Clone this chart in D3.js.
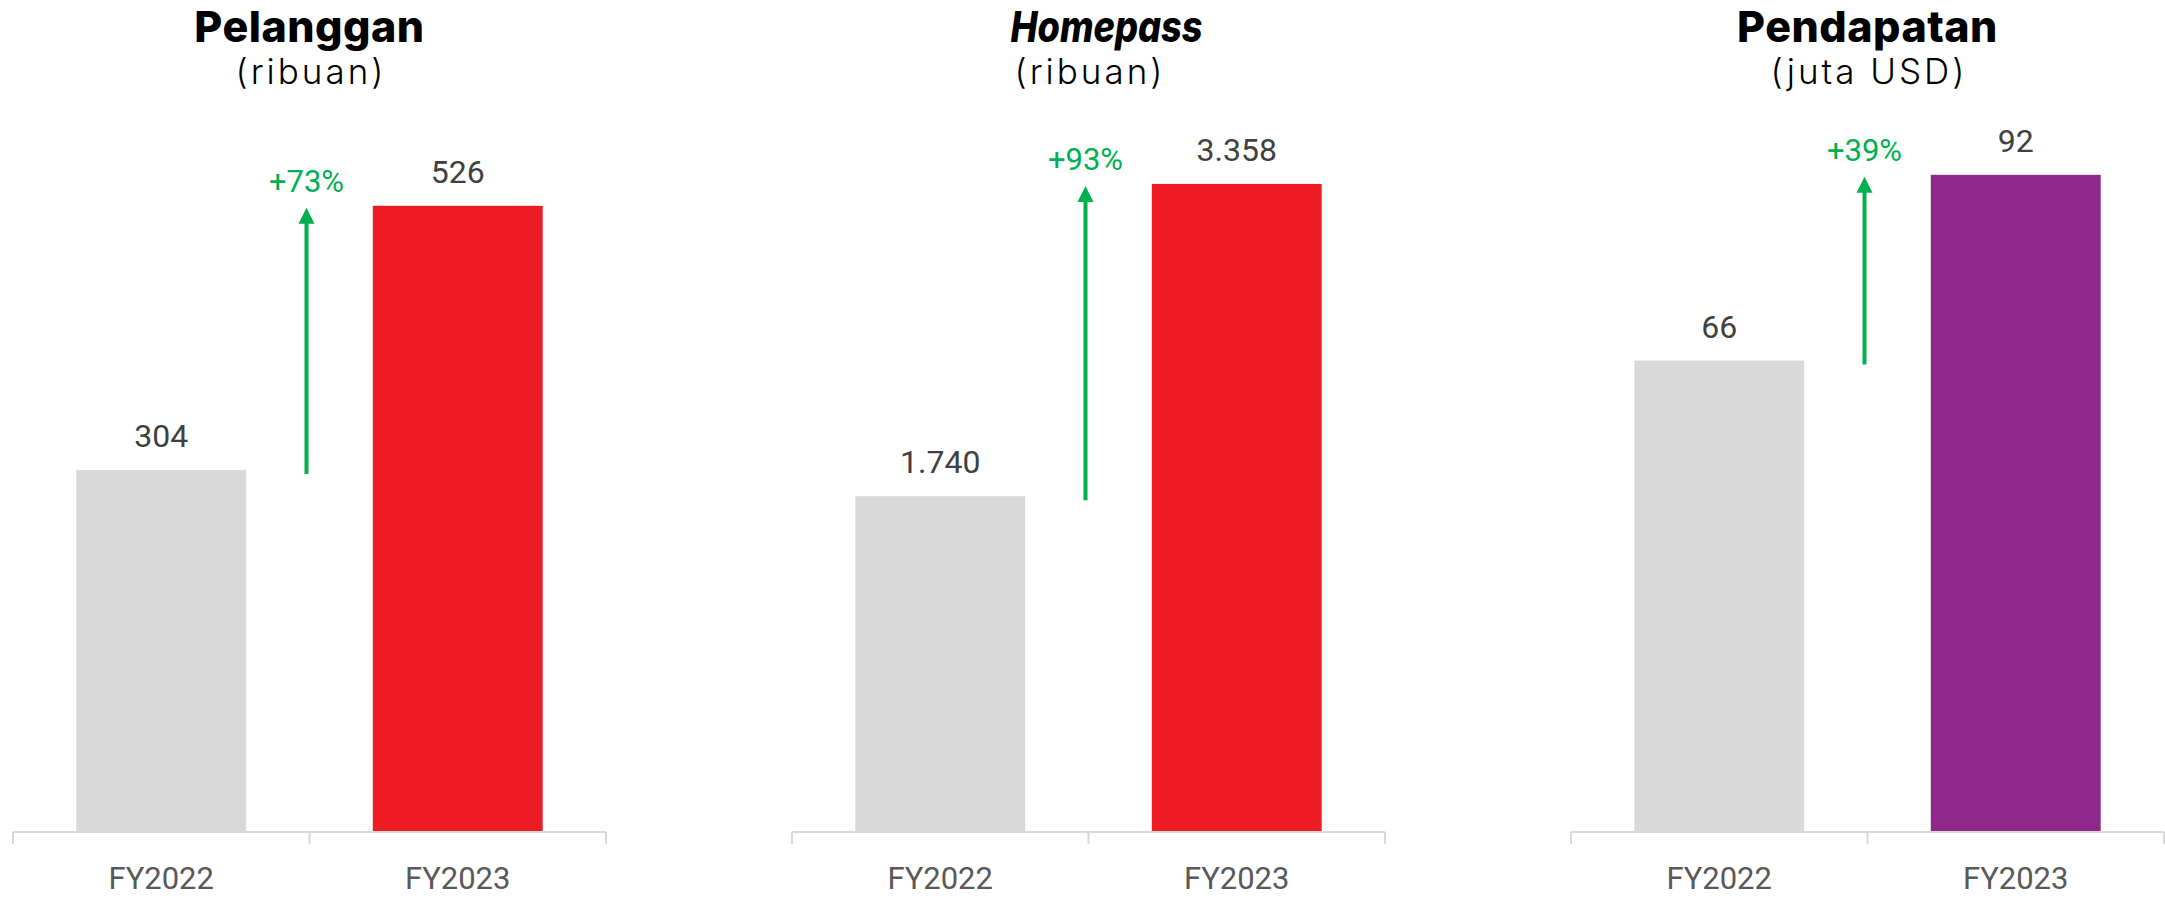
<!DOCTYPE html>
<html>
<head>
<meta charset="utf-8">
<script src="https://cdn.jsdelivr.net/npm/d3@7"></script>
<style>
  html, body { margin: 0; padding: 0; background: #fff; }
  svg { display: block; }
</style>
</head>
<body>
<svg id="chart" width="2165" height="898"></svg>
<script>
// ---- data ----
const categories = ["FY2022", "FY2023"];
const titles = ["Pelanggan", "Homepass", "Pendapatan"];
const subtitles = ["(ribuan)", "(ribuan)", "(juta USD)"];
const values = [[304, 526], [1740, 3358], [66, 92]];
const valueLabels = [["304", "526"], ["1.740", "3.358"], ["66", "92"]];
const growthLabels = ["+73%", "+93%", "+39%"];
const yMax = [588, 3627, 98];
const highlightColors = ["#ED1C24", "#ED1C24", "#8E298A"];

// ---- layout ----
const svg = d3.select("#chart");
const panelW = 593, panelX0 = 13, panelStep = 779;
const baseY = 832, plotH = 700;
const titleFont = "Inter, 'Noto Sans', sans-serif";
const numFont = "Roboto, 'Liberation Sans', sans-serif";

titles.forEach((t, i) => {
  const g = svg.append("g").attr("transform", `translate(${panelX0 + i * panelStep},0)`);
  const x = d3.scaleBand().domain(categories).range([0, panelW])
    .paddingInner(0.427).paddingOuter(0.2135);
  const y = d3.scaleLinear().domain([0, yMax[i]]).range([baseY, baseY - plotH]);
  const cx = panelW / 2;

  // titles
  const title = g.append("text")
    .attr("x", cx + (i === 1 ? 18 : 0)).attr("y", 42)
    .attr("text-anchor", "middle")
    .attr("font-family", titleFont).attr("font-weight", 800)
    .attr("font-style", i === 1 ? "italic" : "normal")
    .attr("font-size", 43).attr("letter-spacing", i === 1 ? 0 : 0.5).attr("fill", "#000")
    .text(t);
  if (i === 1) title.attr("textLength", 192).attr("lengthAdjust", "spacingAndGlyphs");
  g.append("text")
    .attr("x", cx + 1.5).attr("y", 84)
    .attr("text-anchor", "middle")
    .attr("font-family", titleFont).attr("font-weight", 300)
    .attr("font-size", 35).attr("letter-spacing", 3).attr("fill", "#000")
    .text(subtitles[i]);

  // bars
  g.selectAll("rect.bar").data(categories).join("rect")
    .attr("class", "bar")
    .attr("x", d => x(d))
    .attr("width", x.bandwidth())
    .attr("y", (d, j) => y(values[i][j]))
    .attr("height", (d, j) => baseY - y(values[i][j]))
    .attr("fill", (d, j) => j === 0 ? "#D9D9D9" : highlightColors[i]);

  // value labels
  g.selectAll("text.val").data(categories).join("text")
    .attr("class", "val")
    .attr("x", d => x(d) + x.bandwidth() / 2)
    .attr("y", (d, j) => y(values[i][j]) - 23)
    .attr("text-anchor", "middle")
    .attr("font-family", numFont).attr("font-size", 32).attr("fill", "#404040")
    .text((d, j) => valueLabels[i][j]);

  // axis: line with ticks at band boundaries
  const edges = [0, panelW / 2, panelW];
  g.append("line")
    .attr("x1", 0).attr("x2", panelW).attr("y1", baseY).attr("y2", baseY)
    .attr("stroke", "#D9D9D9").attr("stroke-width", 2);
  g.selectAll("line.tick").data(edges).join("line")
    .attr("class", "tick")
    .attr("x1", d => d).attr("x2", d => d)
    .attr("y1", baseY).attr("y2", baseY + 12)
    .attr("stroke", "#D9D9D9").attr("stroke-width", 2);
  g.selectAll("text.cat").data(categories).join("text")
    .attr("class", "cat")
    .attr("x", d => x(d) + x.bandwidth() / 2)
    .attr("y", 889)
    .attr("text-anchor", "middle")
    .attr("font-family", numFont).attr("font-size", 31).attr("fill", "#595959")
    .text(d => d);

  // growth arrow
  const ax = panelW / 2 - 3;
  const yStart = y(values[i][0]) + 4;
  const yTip = y(values[i][1]) + 2;
  const green = "#00B050";
  g.append("line")
    .attr("x1", ax).attr("x2", ax)
    .attr("y1", yStart).attr("y2", yTip + 14)
    .attr("stroke", green).attr("stroke-width", 4);
  g.append("path")
    .attr("d", `M${ax - 8},${yTip + 16} L${ax},${yTip} L${ax + 8},${yTip + 16} Z`)
    .attr("fill", green);
  g.append("text")
    .attr("x", ax).attr("y", yTip - 16)
    .attr("text-anchor", "middle")
    .attr("font-family", numFont).attr("font-size", 31).attr("fill", green)
    .text(growthLabels[i]);
});
</script>
</body>
</html>
